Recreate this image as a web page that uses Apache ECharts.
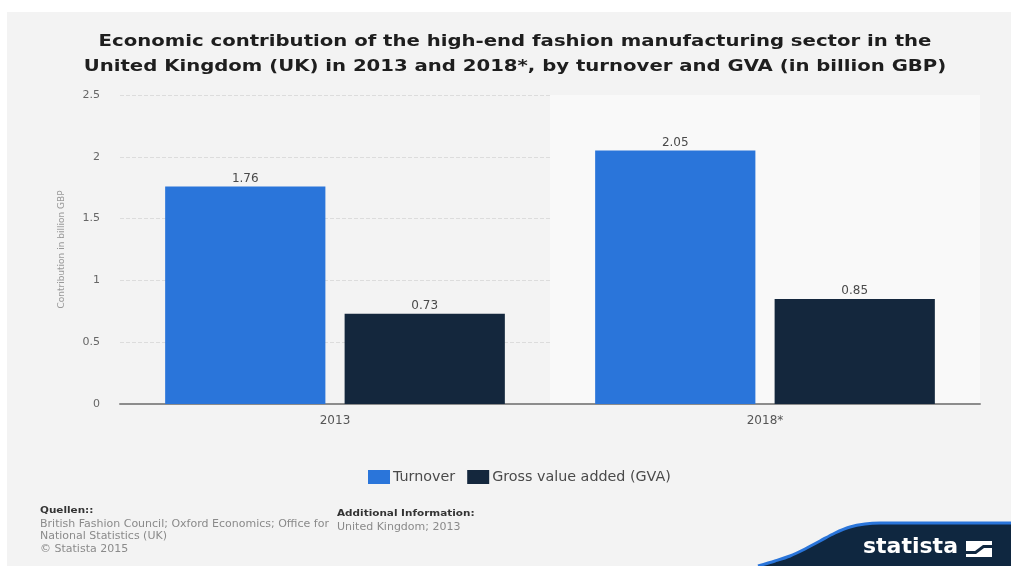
<!DOCTYPE html>
<html>
<head>
<meta charset="utf-8">
<script src="https://cdn.jsdelivr.net/npm/echarts@6/dist/echarts.min.js"></script>
<style>
  html, body { margin: 0; padding: 0; background: #ffffff; }
  #chart { width: 1011px; height: 566px; }
</style>
</head>
<body>
<div id="chart"></div>
<script>
// Years on the category axis
const categories = ['2013', '2018*'];
// Values in billion GBP
const turnover = [1.76, 2.05];
const grossValueAdded = [0.73, 0.85];
const seriesNames = ['Turnover', 'Gross value added (GVA)'];

const FONT = '"DejaVu Sans", Verdana, sans-serif';
const BLUE = '#2a75da';
const NAVY = '#14273d';
const LOGO_NAVY = '#0f2740';

const chart = echarts.init(document.getElementById('chart'), null, { renderer: 'canvas' });

const barLabel = {
  show: true,
  position: 'top',
  distance: 2,
  color: '#4a4a4a',
  fontSize: 12,
  fontFamily: FONT,
  formatter: p => p.value.toFixed(2)
};

// outline of the brand corner
const cornerEdge = [
  [758, 566], [775, 561], [790, 556], [805, 549], [820, 541],
  [835, 533], [850, 527], [865, 524], [880, 523], [1011, 523]
];

chart.setOption({
  backgroundColor: '#ffffff',
  animation: false,
  legend: {
    left: 363,
    top: 465,
    itemWidth: 22,
    itemHeight: 14,
    itemGap: 12,
    icon: 'rect',
    textStyle: { fontFamily: FONT, fontSize: 14.3, color: '#4a4a4a', padding: [0, 0, 0, -2] },
    data: seriesNames
  },
  grid: { left: 120, right: 31, top: 95, bottom: 162 },
  xAxis: {
    type: 'category',
    data: categories,
    axisLine: { lineStyle: { color: '#8c8c8c', width: 2 } },
    axisTick: { show: false },
    axisLabel: { fontFamily: FONT, fontSize: 12, color: '#555555', margin: 11 },
    splitArea: { show: true, areaStyle: { color: ['rgba(0,0,0,0)', '#f9f9f9'] } }
  },
  yAxis: {
    type: 'value',
    min: 0,
    max: 2.5,
    interval: 0.5,
    name: 'Contribution in billion GBP',
    nameLocation: 'middle',
    nameGap: 54,
    nameRotate: 90,
    nameTextStyle: { fontFamily: FONT, fontSize: 9, color: '#999999' },
    axisLine: { show: false },
    axisTick: { show: false },
    axisLabel: { fontFamily: FONT, fontSize: 11, color: '#666666', margin: 20 },
    splitLine: { lineStyle: { color: '#dcdcdc', type: [4, 2], width: 1 } }
  },
  series: [
    {
      name: seriesNames[0],
      type: 'bar',
      data: turnover,
      barGap: '12%',
      barCategoryGap: '21%',
      itemStyle: { color: BLUE },
      label: barLabel
    },
    {
      name: seriesNames[1],
      type: 'bar',
      data: grossValueAdded,
      itemStyle: { color: NAVY },
      label: barLabel
    }
  ],
  graphic: [
    // light panel behind everything
    {
      type: 'rect',
      z: -10,
      silent: true,
      shape: { x: 7, y: 12, width: 1004, height: 554 },
      style: { fill: '#f3f3f3' }
    },
    // two-line heading, widened
    {
      type: 'text',
      x: 515, y: 30,
      scaleX: 1.23,
      style: {
        text: 'Economic contribution of the high-end fashion manufacturing sector in the\nUnited Kingdom (UK) in 2013 and 2018*, by turnover and GVA (in billion GBP)',
        font: 'bold 16px ' + FONT,
        fill: '#1e1e1e',
        align: 'center',
        lineHeight: 24.5
      }
    },
    // source notes
    {
      type: 'text', x: 40, y: 506, scaleX: 1.1,
      style: { text: 'Quellen::', font: 'bold 9.5px ' + FONT, fill: '#333333' }
    },
    {
      type: 'text', x: 40, y: 518, scaleX: 1.1,
      style: {
        text: 'British Fashion Council; Oxford Economics; Office for\nNational Statistics (UK)\n© Statista 2015',
        font: '10px ' + FONT, fill: '#8a8a8a', lineHeight: 12.5
      }
    },
    {
      type: 'text', x: 337, y: 509, scaleX: 1.1,
      style: { text: 'Additional Information:', font: 'bold 9.5px ' + FONT, fill: '#333333' }
    },
    {
      type: 'text', x: 337, y: 522, scaleX: 1.1,
      style: { text: 'United Kingdom; 2013', font: '10px ' + FONT, fill: '#8a8a8a' }
    },
    // brand corner
    {
      type: 'polygon',
      silent: true,
      shape: { points: cornerEdge.concat([[1011, 566]]) },
      style: { fill: LOGO_NAVY }
    },
    {
      type: 'polyline',
      silent: true,
      shape: { points: cornerEdge, smooth: 0.3 },
      style: { stroke: BLUE, lineWidth: 3, fill: null }
    },
    {
      type: 'text', x: 863, y: 536,
      style: { text: 'statista', font: 'bold 22px ' + FONT, fill: '#ffffff' }
    },
    {
      type: 'rect',
      shape: { x: 966, y: 541, width: 26, height: 16 },
      style: { fill: '#ffffff' }
    },
    {
      type: 'polygon',
      shape: { points: [[966, 551], [975, 551], [983, 545], [992, 545], [992, 548], [984, 548], [976, 554], [966, 554]] },
      style: { fill: LOGO_NAVY }
    }
  ]
});
</script>
</body>
</html>
